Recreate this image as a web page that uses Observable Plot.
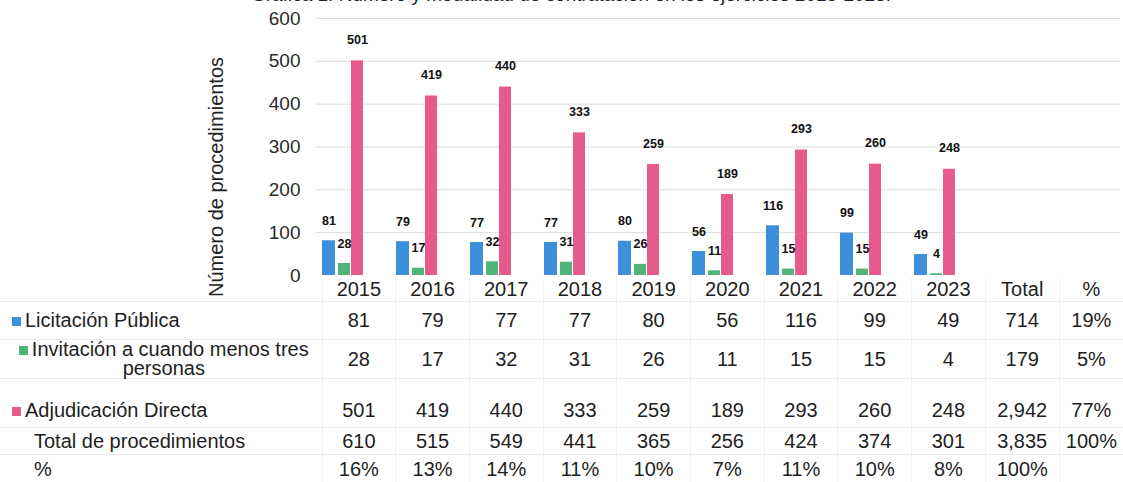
<!DOCTYPE html>
<html>
<head>
<meta charset="utf-8">
<script src="https://cdn.jsdelivr.net/npm/d3@7"></script>
<script src="https://cdn.jsdelivr.net/npm/@observablehq/plot@0.6"></script>
<style>
  html, body { margin: 0; padding: 0; background: #fff; overflow: hidden; }
  body { width: 1123px; height: 482px; position: relative; font-family: "Liberation Sans", Arial, sans-serif; color: #1a1a1a; }
  #title { position: absolute; top: -15px; left: 0; width: 1142px; text-align: center; font-size: 19px; line-height: 19px; white-space: nowrap; color: #222; }
  #chart { position: absolute; top: 0; left: 0; }
  #ylabel { position: absolute; left: 86px; top: 165px; width: 260px; height: 24px; line-height: 24px; text-align: center; font-size: 20px; transform: rotate(-90deg); white-space: nowrap; color: #222; }
  #tbl { position: absolute; top: 278px; left: 0; border-collapse: collapse; table-layout: fixed; font-size: 20px; }
  #tbl td { padding: 0; text-align: center; vertical-align: middle; border-bottom: 1px solid #ececec; border-left: 1px solid #f0f0f0; white-space: nowrap; color: #1e1e1e; }
  #tbl td.lab { text-align: left; border-left: none; padding-left: 12px; }
  #tbl td.lab2 { text-align: center; border-left: none; line-height: 19px; white-space: normal; padding-left: 6px; }
  #tbl tr.r3 td { padding-top: 15px; }
  .sw { display: inline-block; width: 9px; height: 9px; margin-right: 4px; vertical-align: 1px; }
</style>
</head>
<body>
<div id="title"></div>
<div id="chart"></div>
<div id="ylabel"></div>
<table id="tbl"></table>
<script>
// ---- data ----
const titleText = "Gráfica 1. Número y modalidad de contratación en los ejercicios 2015-2023.";
const yLabel = "Número de procedimientos";
const years = ["2015","2016","2017","2018","2019","2020","2021","2022","2023"];
const seriesNames = ["Licitación Pública", "Invitación a cuando menos tres personas", "Adjudicación Directa"];
const licitacion = [81, 79, 77, 77, 80, 56, 116, 99, 49];
const invitacion = [28, 17, 32, 31, 26, 11, 15, 15, 4];
const adjudicacion = [501, 419, 440, 333, 259, 189, 293, 260, 248];
const totalProc = [610, 515, 549, 441, 365, 256, 424, 374, 301];
const pctYear = ["16%","13%","14%","11%","10%","7%","11%","10%","8%"];
const rowTotals = ["714", "179", "2,942", "3,835", "100%"];
const rowPct = ["19%", "5%", "77%", "100%", ""];
const totalRowLabel = "Total de procedimientos";
const pctRowLabel = "%";
const totalHeader = "Total";
const pctHeader = "%";
const yTicks = [0, 100, 200, 300, 400, 500, 600];
const colors = ["#3c90da", "#4fb47a", "#e65a8d"];

// ---- build ----
document.getElementById("title").textContent = titleText;
document.getElementById("ylabel").textContent = yLabel;

const seriesValues = [licitacion, invitacion, adjudicacion];
const rows = [];
seriesValues.forEach((vals, s) => vals.forEach((v, i) => rows.push({year: years[i], series: s, value: v})));

const insets = [[16, 45], [32, 30], [45, 17]];
const dxs = [-14.5, 1, 14];
const fontFam = "'Liberation Sans', Arial, sans-serif";

const marks = [
  Plot.ruleY(yTicks.filter(d => d > 0), {stroke: "#dcdcdc", strokeWidth: 1}),
  Plot.axisY({ticks: yTicks, tickSize: 0, tickPadding: 16, fontSize: 19, label: null, tickFormat: d => String(d)})
];
seriesValues.forEach((vals, s) => {
  const data = rows.filter(r => r.series === s);
  marks.push(Plot.barY(data, {x: "year", y: "value", fill: colors[s], insetLeft: insets[s][0], insetRight: insets[s][1]}));
});
seriesValues.forEach((vals, s) => {
  const data = rows.filter(r => r.series === s);
  marks.push(Plot.text(data, {x: "year", y: "value", text: d => String(d.value), dx: dxs[s], dy: s === 2 ? -21 : -20,
    fontWeight: "bold", fontSize: 12.5, fill: "#111", lineAnchor: "middle"}));
});

const chart = Plot.plot({
  width: 1123,
  height: 285,
  marginLeft: 316,
  marginRight: 3,
  marginTop: 18,
  marginBottom: 10,
  style: {fontFamily: fontFam, fontSize: "19px", color: "#2a2a2a", background: "transparent"},
  x: {type: "band", domain: years, range: [306, 972], padding: 0, axis: null},
  y: {domain: [0, 600]},
  marks
});
document.getElementById("chart").appendChild(chart);

// ---- table ----
const tbl = document.getElementById("tbl");
const colW = [322].concat(years.map(() => 73.7)).concat([74, 63.7]);
const cg = document.createElement("colgroup");
colW.forEach(w => { const c = document.createElement("col"); c.style.width = w + "px"; cg.appendChild(c); });
tbl.appendChild(cg);
tbl.style.width = colW.reduce((a, b) => a + b, 0) + "px";

function addRow(cls, height, labelHTML, labelCls, cells) {
  const tr = document.createElement("tr");
  if (cls) tr.className = cls;
  tr.style.height = height + "px";
  const td0 = document.createElement("td");
  td0.className = labelCls;
  td0.innerHTML = labelHTML;
  tr.appendChild(td0);
  cells.forEach(v => { const td = document.createElement("td"); td.textContent = v; tr.appendChild(td); });
  tbl.appendChild(tr);
}
const sw = c => `<span class="sw" style="background:${c}"></span>`;
addRow("head", 23, "", "lab", years.concat([totalHeader, pctHeader]));
addRow("", 38, sw(colors[0]) + seriesNames[0], "lab", licitacion.map(String).concat([rowTotals[0], rowPct[0]]));
addRow("", 37, sw(colors[1]) + seriesNames[1], "lab2", invitacion.map(String).concat([rowTotals[1], rowPct[1]]));
addRow("r3", 49, sw(colors[2]) + seriesNames[2], "lab", adjudicacion.map(String).concat([rowTotals[2], rowPct[2]]));
addRow("", 27, totalRowLabel, "lab", totalProc.map(String).concat([rowTotals[3], rowPct[3]]));
addRow("", 30, pctRowLabel, "lab", pctYear.concat([rowTotals[4], rowPct[4]]));
tbl.querySelectorAll("tr").forEach((tr, i) => {
  if (i >= 4) tr.firstChild.style.paddingLeft = "34px";
});
</script>
</body>
</html>
